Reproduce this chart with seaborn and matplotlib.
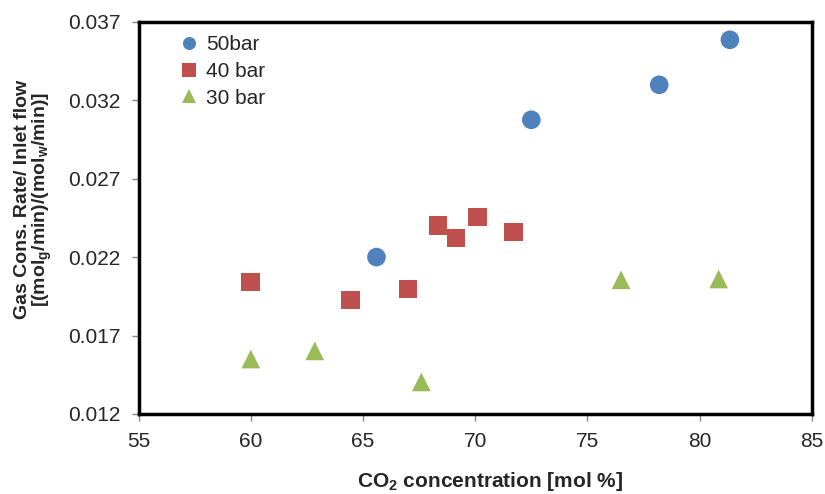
import matplotlib
matplotlib.use("Agg")
import matplotlib.pyplot as plt
import seaborn as sns
import pandas as pd
import numpy as np

# Data
x_50 = [65.6, 72.5, 78.2, 81.35]
y_50 = [0.0220, 0.03075, 0.03298, 0.03585]
x_40 = [60.0, 64.45, 67.0, 68.35, 69.15, 70.1, 71.7]
y_40 = [0.02042, 0.01927, 0.01997, 0.0240, 0.02322, 0.02456, 0.02361]
x_30 = [60.0, 62.85, 67.6, 76.5, 80.85]
y_30 = [0.0155, 0.01602, 0.01404, 0.02055, 0.0206]
series_labels = ["50bar", "40 bar", "30 bar"]
colors = ["#4F81BD", "#C0504D", "#9BBB59"]
markers = ["o", "s", "^"]
x_ticks = [55, 60, 65, 70, 75, 80, 85]
y_ticks = [0.012, 0.017, 0.022, 0.027, 0.032, 0.037]

df = pd.concat([
    pd.DataFrame({"x": x_50, "y": y_50, "series": series_labels[0]}),
    pd.DataFrame({"x": x_40, "y": y_40, "series": series_labels[1]}),
    pd.DataFrame({"x": x_30, "y": y_30, "series": series_labels[2]}),
], ignore_index=True)

sns.set_theme(style="white")
plt.rcParams["font.family"] = ["Liberation Sans", "DejaVu Sans"]
plt.rcParams["mathtext.fontset"] = "custom"
plt.rcParams["mathtext.bf"] = "Liberation Sans:bold"
plt.rcParams["mathtext.rm"] = "Liberation Sans:bold"
plt.rcParams["mathtext.default"] = "bf"

fig = plt.figure(figsize=(8.25, 4.94), dpi=100)
ax = fig.add_axes([0.168, 0.162, 0.816, 0.794])

sns.scatterplot(data=df, x="x", y="y", hue="series", style="series",
                hue_order=series_labels, style_order=series_labels,
                palette=colors, markers=markers, s=180, linewidth=0,
                ax=ax, legend=True, zorder=3)

ax.set_xlim(55, 85)
ax.set_ylim(0.012, 0.037)
ax.set_xticks(x_ticks)
ax.set_yticks(y_ticks)
ax.set_xticklabels([str(t) for t in x_ticks], fontsize=15)
ax.set_yticklabels([f"{t:.3f}" for t in y_ticks], fontsize=15)
ax.tick_params(axis="both", which="both", direction="out", length=5,
               width=1, color="#888888", bottom=True, left=True, pad=8)

for sp in ax.spines.values():
    sp.set_color("black")
    sp.set_linewidth(2.5)

ax.set_xlabel("CO$_2$ concentration [mol %]", fontsize=15, fontweight="bold", labelpad=14)
ax.set_ylabel("Gas Cons. Rate/ Inlet flow\n[(mol$_g$/min)/(mol$_w$/min)]",
              fontsize=14, fontweight="bold", labelpad=10, linespacing=1.0)
ax.xaxis.label.set_x(0.522)
ax.yaxis.label.set_y(0.546)

handles, labels = ax.get_legend_handles_labels()
leg = ax.legend(handles, labels, loc="upper left", bbox_to_anchor=(0.04, 1.0),
                frameon=False, fontsize=15, markerscale=0.7,
                handletextpad=0.3, labelspacing=0.37, handlelength=1.0,
                borderaxespad=0.25)

fig.savefig("out.png", dpi=100)
